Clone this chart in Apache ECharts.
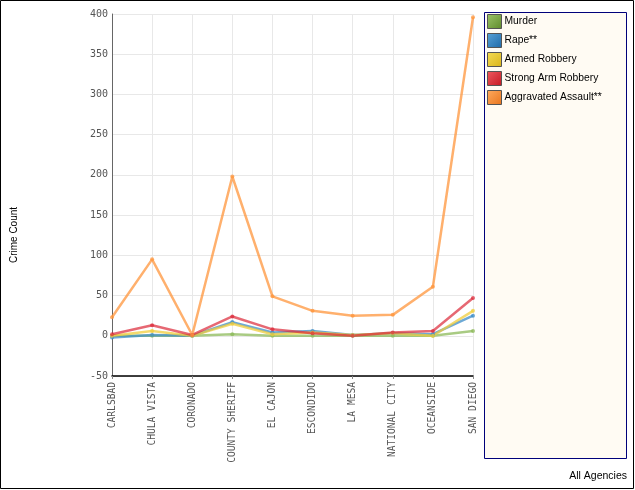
<!DOCTYPE html>
<html><head><meta charset="utf-8">
<script src="https://cdn.jsdelivr.net/npm/echarts@6/dist/echarts.min.js"></script>
<style>html,body{margin:0;padding:0;background:#fff}#c{width:635px;height:490px}</style>
</head><body><div id="c"></div>
<script>
const categories = ["CARLSBAD","CHULA VISTA","CORONADO","COUNTY SHERIFF","EL CAJON","ESCONDIDO","LA MESA","NATIONAL CITY","OCEANSIDE","SAN DIEGO"];
const murder = [0, 0, 0, 2, 0, 0, 0, 0, 0, 6];
const rape = [-2, 1, 0, 17, 4, 6, 1, 3, 2, 25];
const armedRobbery = [0, 6, 0, 15, 2, 4, 1, 3, 0, 31];
const strongArmRobbery = [2, 13, 1, 24, 8, 3, 0, 4, 6, 47];
const aggravatedAssault = [23, 95, 1, 198, 49, 31, 25, 26, 61, 396];
const seriesNames = ["Murder","Rape**","Armed Robbery","Strong Arm Robbery","Aggravated Assault**"];
const yTicks = {min: -50, max: 400, interval: 50};

const lineColors = ["rgba(140,185,90,0.75)","rgba(60,140,200,0.75)","rgba(240,205,60,0.75)","rgba(220,40,55,0.7)","rgba(255,150,60,0.75)"];
const iconColors = [["#9cc46a","#5e8a2a"],["#5aa3d8","#1f6aa8"],["#f5dc55","#d9b41a"],["#ef5a60","#c41822"],["#ffab60","#e8741c"]];
const dataSets = [murder, rape, armedRobbery, strongArmRobbery, aggravatedAssault];

const chart = echarts.init(document.getElementById('c'));
chart.setOption({
  animation: false,
  backgroundColor: '#fff',
  grid: {left: 112, top: 14, right: 162, bottom: 114, containLabel: false},
  xAxis: {
    type: 'category', data: categories, boundaryGap: false,
    axisLine: {onZero: false, lineStyle: {color: '#000', width: 1.5}},
    axisTick: {show: true, length: 3, alignWithLabel: true, lineStyle: {color: '#888'}},
    axisLabel: {rotate: 90, interval: 0, color: '#555', fontFamily: 'DejaVu Sans Mono', fontSize: 9.6, margin: 6},
    splitLine: {show: true, lineStyle: {color: '#e8e8e8'}}
  },
  yAxis: {
    type: 'value', min: yTicks.min, max: yTicks.max, interval: yTicks.interval,
    axisLine: {show: true, lineStyle: {color: '#666'}},
    axisTick: {show: false},
    axisLabel: {color: '#555', fontFamily: 'DejaVu Sans Mono', fontSize: 10, margin: 4},
    splitLine: {show: true, lineStyle: {color: '#e8e8e8'}}
  },
  legend: {
    orient: 'vertical', left: 482, top: 9, itemGap: 4, itemWidth: 14, itemHeight: 14,
    icon: 'rect',
    textStyle: {fontFamily: 'Liberation Sans', fontSize: 10.3, lineHeight: 14, color: '#000', padding: [0,0,0,-2]},
    data: seriesNames.map((n, i) => ({
      name: n,
      itemStyle: {
        color: new echarts.graphic.LinearGradient(0, 0, 1, 1, [{offset: 0, color: iconColors[i][0]}, {offset: 1, color: iconColors[i][1]}]),
        borderColor: '#555', borderWidth: 1
      }
    }))
  },
  graphic: [
    {type: 'rect', z: -10, shape: {x: 0.5, y: 0.5, width: 633, height: 488}, style: {fill: 'none', stroke: '#000', lineWidth: 1}},
    {type: 'rect', z: -5, shape: {x: 484.5, y: 12.5, width: 142, height: 446}, style: {fill: '#fffbf3', stroke: '#00007a', lineWidth: 1}},
    {type: 'text', x: 14, y: 235, rotation: Math.PI / 2, style: {text: 'Crime Count', fontFamily: 'Liberation Sans', fontSize: 10, fill: '#000', align: 'center', verticalAlign: 'middle'}},
    {type: 'text', x: 627, y: 476, style: {text: 'All Agencies', fontFamily: 'Liberation Sans', fontSize: 10.5, fill: '#000', align: 'right', verticalAlign: 'middle'}}
  ],
  series: seriesNames.map((n, i) => ({
    name: n, type: 'line', data: dataSets[i],
    symbol: 'circle', symbolSize: 4, showSymbol: true,
    itemStyle: {color: lineColors[i]},
    lineStyle: {color: lineColors[i], width: 2.5}
  }))
});
</script></body></html>
